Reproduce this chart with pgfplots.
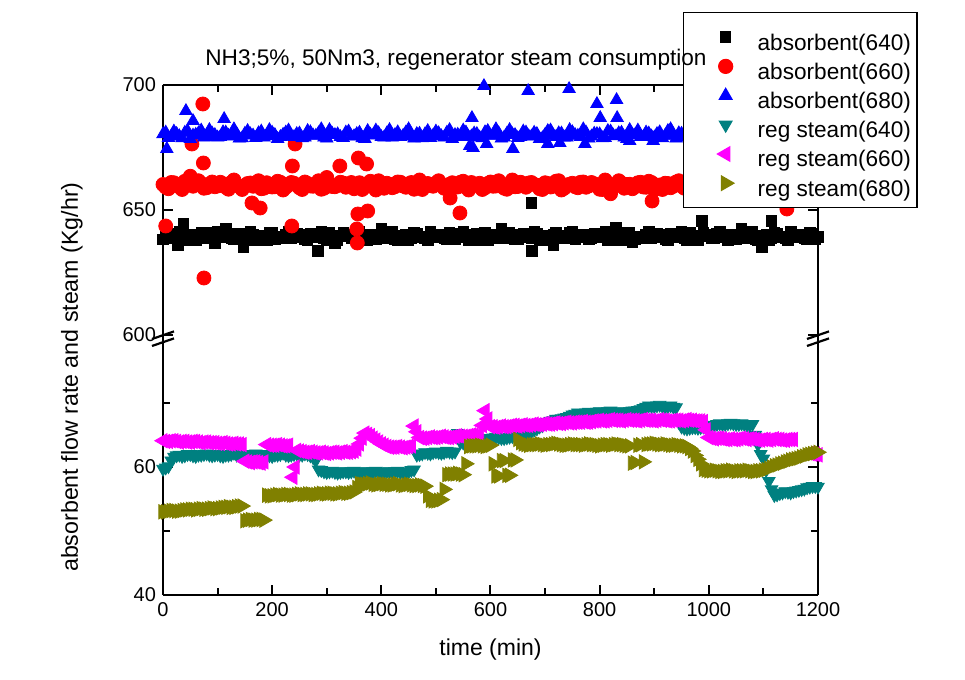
\documentclass[border=0pt]{standalone}
\usepackage{pgfplots}
\pgfplotsset{compat=1.18}
\usepackage{fontspec}
\setmainfont{Liberation Sans}
\definecolor{cteal}{RGB}{0,128,128}
\definecolor{cmag}{RGB}{255,0,255}
\definecolor{colive}{RGB}{128,128,0}
\pgfplotsset{
  common/.style={
    scale only axis, width=327.5pt,
    xmin=0, xmax=1200,
    xtick={0,200,...,1200}, minor xtick={100,300,...,1100},
    major tick length=5pt, minor tick length=3.5pt,
    every tick/.style={black, line width=1pt},
    axis line style={-, line width=1.2pt, black},
    every outer x axis line/.append style={-},
    every outer y axis line/.append style={-},
    ticklabel style={font=\fontsize{10}{12}\selectfont},
    /pgf/number format/assume math mode=true,
    /pgf/number format/1000 sep={},
  },
  sq/.style={only marks, mark=square*, color=black, mark size=2.6pt},
  ci/.style={only marks, mark=*, color=red, mark size=3.5pt},
  tu/.style={only marks, mark=triangle*, color=blue, mark size=3.6pt},
  td/.style={only marks, mark=triangle*, color=cteal, mark size=3.6pt, mark options={rotate=180}},
  tl/.style={only marks, mark=triangle*, color=cmag, mark size=4.1pt, mark options={rotate=90}},
  tr/.style={only marks, mark=triangle*, color=colive, mark size=4.1pt, mark options={rotate=-90}},
}
\begin{document}
\begin{tikzpicture}
\useasboundingbox (-81.5pt,-42.5pt) rectangle (401pt,297.5pt);
% ---------------- lower axis (steam) ----------------
\begin{axis}[common, at={(0,0)}, anchor=south west, height=130pt,
  ymin=40, ymax=80.625, ytick={40,60}, minor ytick={50,70},
  axis x line*=bottom, axis y line*=box, tick align=inside,
  xtick pos=lower, ytick pos=both,
  xlabel={time (min)}, ylabel={absorbent flow rate and steam (Kg/hr)},
  xlabel style={font=\fontsize{11.5}{13}\selectfont, at={(rel axis cs:0.5,-0.2115)}, anchor=center},
  ylabel style={font=\fontsize{11.6}{13}\selectfont, at={(rel axis cs:-0.139,0.838)}, anchor=center},
]
% reg steam (640)
\addplot[td] coordinates {
(0,59.7)(10,60.1)(20,61.6)(30,61.9)(40,61.8)(50,62.0)(60,61.7)(70,61.9)(80,62.1)(90,61.8)
(100,62.0)(110,61.7)(120,61.9)(130,62.2)(140,61.8)(150,62.0)(160,61.9)(170,62.1)(180,61.8)(190,62.0)
(200,61.7)(210,61.9)(220,62.2)(230,61.8)(240,62.0)(250,61.9)(260,62.1)(270,61.8)(280,61.0)(290,59.5)
(300,59.2)(310,59.4)(320,59.1)(330,59.3)(340,59.2)(350,59.4)(360,59.1)(370,59.3)(380,59.2)(390,59.4)
(400,59.1)(410,59.3)(420,59.2)(430,59.4)(440,59.1)(450,59.3)(460,59.6)(470,62.0)(480,62.3)(490,62.1)
(500,62.4)(510,62.2)(520,62.5)(530,62.3)(540,65.3)(550,63.8)(560,63.6)(570,63.9)(580,64.2)(590,64.4)
(600,64.5)(610,64.7)(620,64.5)(630,64.6)(640,64.8)(650,64.6)(660,65.2)(670,65.5)(680,65.8)(690,66.3)
(700,66.8)(710,67.2)(720,67.5)(730,67.6)(740,67.8)(750,68.2)(760,68.5)(770,68.4)(780,68.6)(790,68.5)
(800,68.7)(810,68.6)(820,68.8)(830,68.5)(840,68.7)(850,68.6)(860,68.8)(870,68.9)(880,69.2)(890,69.6)
(900,69.5)(910,69.7)(920,69.4)(930,69.6)(940,69.3)(950,66.3)(960,66.0)(970,66.2)(980,66.1)(990,66.3)
(1000,66.5)(1010,66.6)(1020,66.8)(1030,66.7)(1040,66.9)(1050,66.7)(1060,66.8)(1070,66.6)(1080,66.7)(1090,63.5)
(1100,61.3)(1110,57.8)(1120,55.6)(1130,55.9)(1140,56.2)(1150,56.0)(1160,56.3)(1170,56.5)(1180,56.8)(1190,57.0)
(1200,56.9)};
\addplot[td, forget plot] coordinates {
(5,59.9)(15,61.0)(25,61.8)(35,61.7)(45,62.0)(55,61.8)(65,61.9)(75,62.0)(85,61.9)(95,61.9)
(105,61.8)(115,61.9)(125,62.0)(135,61.9)(145,62.0)(155,61.8)(165,62.0)(175,61.9)(185,61.9)(195,61.8)
(205,61.9)(215,62.0)(225,61.9)(235,61.9)(245,62.1)(255,61.9)(265,62.0)(275,61.5)(285,59.6)(295,59.3)
(305,59.3)(315,59.2)(325,59.2)(335,59.3)(345,59.3)(355,59.2)(365,59.2)(375,59.3)(385,59.3)(395,59.2)
(405,59.2)(415,59.3)(425,59.3)(435,59.2)(445,59.2)(455,59.5)(465,61.9)(475,62.1)(485,62.2)(495,62.3)
(505,62.3)(515,62.3)(525,62.4)(535,62.4)(545,63.9)(555,63.7)(565,63.8)(575,64.0)(585,64.3)(595,64.5)
(605,64.6)(615,64.6)(625,64.5)(635,64.7)(645,64.7)(655,64.9)(665,65.3)(675,65.6)(685,66.0)(695,66.5)
(705,67.0)(715,67.3)(725,67.5)(735,67.7)(745,68.0)(755,68.3)(765,68.4)(775,68.5)(785,68.5)(795,68.6)
(805,68.6)(815,68.7)(825,68.6)(835,68.6)(845,68.6)(855,68.7)(865,68.8)(875,69.0)(885,69.4)(895,69.5)
(905,69.6)(915,69.5)(925,69.5)(935,69.4)(945,67.0)(955,66.1)(965,66.1)(975,66.2)(985,66.2)(995,66.4)
(1005,66.5)(1015,66.7)(1025,66.7)(1035,66.8)(1045,66.8)(1055,66.7)(1065,66.7)(1075,66.6)(1085,65.0)(1095,62.0)
(1105,59.5)(1115,56.5)(1125,55.7)(1135,56.0)(1145,56.1)(1155,56.2)(1165,56.4)(1175,56.6)(1185,56.9)(1195,57.0)};
% reg steam (660)
\addplot[tl] coordinates {
(0,64.1)(10,64.0)(20,64.1)(30,63.9)(40,64.0)(50,63.9)(60,64.0)(70,63.8)(80,63.9)(90,63.8)
(100,63.7)(110,63.8)(120,63.6)(130,63.7)(140,63.6)(150,60.9)(160,60.7)(170,60.8)(180,60.6)(190,63.5)
(200,63.4)(210,63.5)(220,63.3)(230,63.4)(238,58.4)(242,60.0)(250,62.5)(260,62.3)(270,62.4)(280,62.2)
(290,62.3)(300,62.1)(310,62.3)(320,62.2)(330,62.4)(340,62.3)(350,62.5)(360,63.6)(370,65.3)(380,64.9)
(390,64.2)(400,63.6)(410,63.2)(420,63.1)(430,63.2)(440,63.0)(450,63.2)(460,66.4)(470,64.6)(480,64.5)
(490,64.7)(500,64.6)(510,64.8)(520,64.6)(530,64.7)(540,64.9)(550,64.8)(560,64.9)(570,65.0)(580,64.9)
(590,68.8)(600,66.3)(610,66.2)(620,66.4)(630,66.3)(640,66.5)(650,66.4)(660,66.6)(670,66.5)(680,66.7)
(690,66.6)(700,66.8)(710,66.7)(720,66.9)(730,66.8)(740,67.0)(750,66.9)(760,67.0)(770,67.1)(780,67.0)
(790,67.2)(800,67.3)(810,67.2)(820,67.4)(830,67.3)(840,67.2)(850,67.4)(860,67.3)(870,67.2)(880,67.4)
(890,67.3)(900,67.2)(910,67.4)(920,67.3)(930,67.2)(940,67.3)(950,67.2)(960,67.4)(970,67.3)(980,67.2)
(990,67.1)(1000,64.6)(1010,64.4)(1020,64.5)(1030,64.3)(1040,64.4)(1050,64.3)(1060,64.5)(1070,64.3)(1080,64.4)
(1090,64.2)(1100,64.3)(1110,64.2)(1120,64.4)(1130,64.3)(1140,64.2)(1150,64.3)(1190,62.0)(1200,61.9)};
\addplot[tl, forget plot] coordinates {
(5,64.0)(15,64.1)(25,64.0)(35,64.0)(45,63.9)(55,64.0)(65,63.9)(75,63.9)(85,63.8)(95,63.8)
(105,63.7)(115,63.7)(125,63.6)(135,63.6)(145,63.5)(155,60.8)(165,60.8)(175,60.7)(185,60.8)(195,63.4)
(205,63.4)(215,63.4)(225,63.3)(245,62.6)(255,62.4)(265,62.3)(275,62.3)(285,62.2)(295,62.2)(305,62.2)
(315,62.3)(325,62.3)(335,62.3)(345,62.4)(355,62.8)(365,64.5)(375,65.1)(385,64.5)(395,63.9)(405,63.4)
(415,63.1)(425,63.1)(435,63.1)(445,63.1)(455,63.3)(465,65.5)(475,64.5)(485,64.6)(495,64.6)(505,64.7)
(515,64.7)(525,64.6)(535,64.8)(545,64.8)(555,64.8)(565,65.0)(575,64.9)(585,66.5)(595,67.5)(605,66.3)
(615,66.3)(625,66.3)(635,66.4)(645,66.5)(655,66.5)(665,66.5)(675,66.6)(685,66.6)(695,66.7)(705,66.7)
(715,66.8)(725,66.8)(735,66.9)(745,66.9)(755,67.0)(765,67.0)(775,67.0)(785,67.1)(795,67.2)(805,67.2)
(815,67.3)(825,67.3)(835,67.3)(845,67.3)(855,67.3)(865,67.3)(875,67.3)(885,67.3)(895,67.3)(905,67.3)
(915,67.3)(925,67.2)(935,67.3)(945,67.3)(955,67.3)(965,67.3)(975,67.2)(985,67.2)(995,65.8)(1005,64.5)
(1015,64.5)(1025,64.4)(1035,64.3)(1045,64.3)(1055,64.4)(1065,64.4)(1075,64.4)(1085,64.3)(1095,64.2)(1105,64.3)
(1115,64.3)(1125,64.3)(1135,64.2)(1145,64.3)(1155,64.3)(1185,62.1)(1195,62.0)};
% reg steam (680)
\addplot[tr] coordinates {
(0,53.0)(10,53.1)(20,53.2)(30,53.1)(40,53.3)(50,53.4)(60,53.3)(70,53.5)(80,53.4)(90,53.6)
(100,53.5)(110,53.7)(120,53.8)(130,53.7)(140,53.9)(150,51.6)(160,51.8)(170,51.7)(180,51.8)(190,55.6)
(200,55.5)(210,55.7)(220,55.6)(230,55.7)(240,55.6)(250,55.8)(260,55.7)(270,55.8)(280,55.7)(290,55.9)
(300,55.8)(310,55.9)(320,55.8)(330,56.0)(340,55.9)(350,56.1)(360,57.4)(370,57.3)(380,57.5)(390,57.2)
(400,57.4)(410,57.3)(420,57.2)(430,57.4)(440,57.1)(450,57.3)(460,57.1)(470,57.2)(480,57.0)(490,54.8)
(500,54.7)(510,54.9)(520,58.8)(530,58.9)(540,59.0)(550,58.8)(560,63.2)(570,63.3)(580,63.4)(590,63.2)
(600,63.4)(610,58.6)(620,61.0)(630,58.7)(640,61.1)(650,64.3)(660,63.6)(670,63.4)(680,63.5)(690,63.6)
(700,63.4)(710,63.5)(720,63.7)(730,63.5)(740,63.4)(750,63.6)(760,63.5)(770,63.4)(780,63.6)(790,63.5)
(800,63.3)(810,63.5)(820,63.4)(830,63.6)(840,63.5)(850,63.3)(860,60.6)(870,63.4)(880,60.8)(890,63.6)
(900,63.7)(910,63.5)(920,63.6)(930,63.4)(940,63.5)(950,63.3)(960,63.2)(970,62.5)(980,61.2)(990,59.6)
(1000,59.4)(1010,59.5)(1020,59.3)(1030,59.4)(1040,59.5)(1050,59.3)(1060,59.4)(1070,59.5)(1080,59.3)(1090,59.4)
(1100,59.5)(1110,59.8)(1120,60.2)(1130,60.5)(1140,60.8)(1150,61.1)(1160,61.3)(1170,61.6)(1180,61.9)(1190,62.1)
(1200,62.3)};
\addplot[tr, forget plot] coordinates {
(5,53.0)(15,53.2)(25,53.1)(35,53.2)(45,53.3)(55,53.4)(65,53.4)(75,53.4)(85,53.5)(95,53.5)
(105,53.6)(115,53.7)(125,53.7)(135,53.8)(145,53.9)(155,51.7)(165,51.7)(175,51.8)(185,51.7)(195,55.5)
(205,55.6)(215,55.6)(225,55.7)(235,55.6)(245,55.7)(255,55.7)(265,55.8)(275,55.7)(285,55.8)(295,55.8)
(305,55.9)(315,55.8)(325,55.9)(335,55.9)(345,56.0)(355,56.8)(365,57.3)(375,57.4)(385,57.3)(395,57.3)
(405,57.3)(415,57.2)(425,57.3)(435,57.2)(445,57.2)(455,57.2)(465,57.1)(475,57.1)(485,55.5)(495,54.7)
(505,54.8)(515,56.5)(525,58.9)(535,58.9)(545,58.9)(555,60.5)(565,63.3)(575,63.3)(585,63.3)(595,63.3)
(605,60.5)(615,58.6)(625,61.0)(635,58.7)(645,61.1)(655,63.8)(665,63.5)(675,63.5)(685,63.5)(695,63.5)
(705,63.5)(715,63.6)(725,63.6)(735,63.4)(745,63.5)(755,63.5)(765,63.5)(775,63.5)(785,63.5)(795,63.4)
(805,63.4)(815,63.5)(825,63.5)(835,63.5)(845,63.4)(855,63.3)(865,60.7)(875,63.5)(885,63.5)(895,63.6)
(905,63.6)(915,63.5)(925,63.5)(935,63.4)(945,63.4)(955,63.3)(965,62.9)(975,61.8)(985,60.5)(995,59.5)
(1005,59.4)(1015,59.4)(1025,59.3)(1035,59.4)(1045,59.4)(1055,59.4)(1065,59.4)(1075,59.4)(1085,59.3)(1095,59.4)
(1105,59.6)(1115,60.0)(1125,60.3)(1135,60.6)(1145,60.9)(1155,61.2)(1165,61.4)(1175,61.7)(1185,62.0)(1195,62.2)};
\end{axis}
% ---------------- upper axis (absorbent) ----------------
\begin{axis}[common, at={(0,130pt)}, anchor=south west, height=125pt,
  ymin=600, ymax=700, ytick={600,650,700},
  axis x line*=top, axis y line*=box, tick align=inside,
  xtick pos=upper, ytick pos=both, xticklabels={},
  legend cell align=left,
  legend image code/.code={\path[draw=none,fill=none] (0pt,0pt) -- (34pt,0pt); \draw[#1] plot coordinates {(18pt,0pt)};},
  legend style={at={(rel axis cs:0.794,1.292)}, anchor=north west, draw=black, line width=0.6pt,
    fill=white, inner xsep=3pt, inner ysep=5pt, row sep=0pt,
    font=\fontsize{11.3}{13}\selectfont,
    nodes={inner xsep=0pt, inner ysep=0.8pt, text height=13pt, text depth=0pt}},
]
% absorbent (640)
\addplot[sq] coordinates {
(0,638.3)(10,640.4)(20,639.2)(27,636)(30,641.3)(37,644.4)(40,638.0)(50,639.9)(60,637.8)(70,640.8)(80,639.5)(90,638.7)(95,636.6)
(100,641.5)(110,639.0)(115,642.5)(120,640.2)(130,638.3)(140,640.4)(147,635)(150,639.2)(160,641.3)(170,638.0)(180,639.9)(190,637.8)
(200,640.8)(210,639.5)(220,638.7)(230,641.5)(240,639.0)(250,640.2)(260,638.3)(270,640.4)(280,639.2)(284,633.6)(290,641.3)
(300,638.0)(310,639.9)(315,636.8)(320,637.8)(330,640.8)(340,639.5)(350,638.7)(360,641.5)(370,639.0)(380,640.2)(390,638.3)
(400,642.6)(410,639.2)(420,641.3)(430,638.0)(440,639.9)(450,637.8)(460,640.8)(470,639.5)(480,638.7)(490,641.5)
(500,639.0)(510,640.2)(520,638.3)(530,640.4)(540,639.2)(550,641.3)(560,638.0)(570,639.9)(580,637.8)(590,640.8)
(600,639.5)(610,638.7)(620,642.4)(630,639.0)(640,640.2)(650,638.3)(660,640.4)(670,639.2)(675,652.9)(676,633.6)(680,641.3)(690,638.0)
(700,639.9)(710,637.8)(715,636.0)(720,640.8)(730,639.5)(740,638.7)(750,641.5)(760,639.0)(770,640.2)(780,638.3)(790,640.4)
(800,639.2)(810,641.3)(820,638.0)(830,642.8)(840,637.8)(850,640.8)(860,637.0)(870,639.5)(880,638.7)(890,641.5)
(900,639.0)(910,640.2)(920,638.3)(930,640.4)(940,639.2)(950,641.3)(960,638.0)(970,639.9)(980,637.8)(987,645.6)(990,640.8)
(1000,639.5)(1010,638.7)(1020,641.5)(1030,639.0)(1040,640.2)(1050,638.3)(1060,642.6)(1070,639.2)(1080,641.3)(1090,638.0)(1097,635)
(1100,639.9)(1110,637.8)(1115,645.6)(1120,640.8)(1130,639.5)(1140,638.7)(1150,641.5)(1160,639.0)(1170,640.2)(1180,638.3)(1190,640.4)(1200,639.2)};
\addplot[sq, forget plot] coordinates {
(5,640.0)(15,638.6)(25,640.6)(35,639.3)(45,638.1)(55,640.3)(65,639.7)(75,638.9)(85,641.1)(95,638.5)(105,639.5)
(115,640.0)(125,638.6)(135,640.6)(145,639.3)(155,638.1)(165,640.3)(175,639.7)(185,638.9)(195,641.1)(205,638.5)(215,639.5)
(225,640.0)(235,638.6)(245,640.6)(255,639.3)(265,638.1)(275,640.3)(285,639.7)(295,638.9)(305,641.1)(315,638.5)(325,639.5)
(335,640.0)(345,638.6)(355,640.6)(365,639.3)(375,638.1)(385,640.3)(395,639.7)(405,638.9)(415,641.1)(425,638.5)(435,639.5)
(445,640.0)(455,638.6)(465,640.6)(475,639.3)(485,638.1)(495,640.3)(505,639.7)(515,638.9)(525,641.1)(535,638.5)(545,639.5)
(555,640.0)(565,638.6)(575,640.6)(585,639.3)(595,638.1)(605,640.3)(615,639.7)(625,638.9)(635,641.1)(645,638.5)(655,639.5)
(665,640.0)(675,638.6)(685,640.6)(695,639.3)(705,638.1)(715,640.3)(725,639.7)(735,638.9)(745,641.1)(755,638.5)(765,639.5)
(775,640.0)(785,638.6)(795,640.6)(805,639.3)(815,638.1)(825,640.3)(835,639.7)(845,638.9)(855,641.1)(865,638.5)(875,639.5)
(885,640.0)(895,638.6)(905,640.6)(915,639.3)(925,638.1)(935,640.3)(945,639.7)(955,638.9)(965,641.1)(975,638.5)(985,639.5)
(995,640.0)(1005,638.6)(1015,640.6)(1025,639.3)(1035,638.1)(1045,640.3)(1055,639.7)(1065,638.9)(1075,641.1)(1085,638.5)(1095,639.5)
(1105,640.0)(1115,638.6)(1125,640.6)(1135,639.3)(1145,638.1)(1155,640.3)(1165,639.7)(1175,638.9)(1185,641.1)(1195,638.5)};
% absorbent (660)
\addplot[ci] coordinates {
(0,660.2)(5,643.6)(10,658.5)(20,660.9)(30,659.2)(40,661.5)(50,663.5)(53,676.4)(60,660.0)(70,660.7)(73,692.4)(74,668.8)(75,622.8)(80,658.9)(90,661.2)
(100,659.6)(110,660.5)(120,658.3)(130,662.0)(140,659.4)(150,659.8)(160,660.8)(163,652.8)(170,660.2)(178,650.8)(180,658.5)(190,660.9)
(200,659.2)(210,661.5)(220,658.0)(230,660.0)(236,643.6)(237,667.6)(240,660.7)(242,676.4)(250,658.9)(260,661.2)(270,659.6)(280,660.5)(290,658.3)
(300,663.0)(310,659.4)(320,659.8)(324,667.6)(330,660.8)(340,660.2)(350,658.5)(355,642.4)(356,636.8)(357,648.4)(358,670.8)(360,660.9)(370,659.2)(373,668.4)(375,649.6)(380,661.5)(390,658.0)
(400,660.0)(410,660.7)(420,658.9)(430,661.2)(440,659.6)(450,660.5)(460,658.3)(470,662.0)(480,659.4)(490,659.8)
(500,660.8)(510,660.2)(520,658.5)(526,654.8)(530,660.9)(540,659.2)(544,648.8)(550,661.5)(560,658.0)(570,660.0)(580,660.7)(590,658.9)
(600,661.2)(610,659.6)(620,660.5)(630,658.3)(640,662.0)(650,659.4)(660,659.8)(670,660.8)(680,660.2)(690,658.5)
(700,660.9)(710,659.2)(720,661.5)(730,658.0)(740,660.0)(750,660.7)(760,658.9)(770,661.2)(780,659.6)(790,660.5)
(800,658.3)(810,662.0)(820,656.5)(830,659.8)(840,660.8)(850,660.2)(860,658.5)(870,660.9)(880,659.2)(890,661.5)(896,653.6)
(900,658.0)(910,660.0)(920,660.7)(930,658.9)(940,661.2)(950,659.6)(960,660.5)(970,658.3)(980,662.0)(990,659.4)
(1000,659.8)(1010,660.8)(1020,660.2)(1030,658.5)(1040,660.9)(1050,659.2)(1060,661.5)(1070,658.0)(1080,660.0)(1090,660.7)
(1100,658.9)(1110,661.2)(1120,659.6)(1130,660.5)(1140,658.3)(1143,650.4)(1150,662.0)(1160,659.4)(1170,659.8)(1180,660.8)(1190,660.2)(1200,658.5)};
\addplot[ci, forget plot] coordinates {
(5,659.1)(15,661.0)(25,659.9)(35,658.2)(45,660.6)(55,659.5)(65,661.7)(75,658.7)(85,660.3)(95,659.3)(105,661.1)
(115,659.1)(125,661.0)(135,659.9)(145,658.2)(155,660.6)(165,659.5)(175,661.7)(185,658.7)(195,660.3)(205,659.3)(215,661.1)
(225,659.1)(235,661.0)(245,659.9)(255,658.2)(265,660.6)(275,659.5)(285,661.7)(295,658.7)(305,660.3)(315,659.3)(325,661.1)
(335,659.1)(345,661.0)(355,659.9)(365,658.2)(375,660.6)(385,659.5)(395,661.7)(405,658.7)(415,660.3)(425,659.3)(435,661.1)
(445,659.1)(455,661.0)(465,659.9)(475,658.2)(485,660.6)(495,659.5)(505,661.7)(515,658.7)(525,660.3)(535,659.3)(545,661.1)
(555,659.1)(565,661.0)(575,659.9)(585,658.2)(595,660.6)(605,659.5)(615,661.7)(625,658.7)(635,660.3)(645,659.3)(655,661.1)
(665,659.1)(675,661.0)(685,659.9)(695,658.2)(705,660.6)(715,659.5)(725,661.7)(735,658.7)(745,660.3)(755,659.3)(765,661.1)
(775,659.1)(785,661.0)(795,659.9)(805,658.2)(815,660.6)(825,659.5)(835,661.7)(845,658.7)(855,660.3)(865,659.3)(875,661.1)
(885,659.1)(895,661.0)(905,659.9)(915,658.2)(925,660.6)(935,659.5)(945,661.7)(955,658.7)(965,660.3)(975,659.3)(985,661.1)
(995,659.1)(1005,661.0)(1015,659.9)(1025,658.2)(1035,660.6)(1045,659.5)(1055,661.7)(1065,658.7)(1075,660.3)(1085,659.3)(1095,661.1)
(1105,659.1)(1115,661.0)(1125,659.9)(1135,658.2)(1145,660.6)(1155,659.5)(1165,661.7)(1175,658.7)(1185,660.3)(1195,659.3)};
% absorbent (680)
\addplot[tu] coordinates {
(0,680.3)(7,674.4)(10,678.8)(20,681.4)(30,679.5)(40,680.9)(42,689.6)(50,678.4)(55,685.6)(60,680.1)(70,681.8)(80,679.2)(90,680.6)
(100,679.0)(110,681.1)(112,686.4)(120,679.7)(130,682.3)(140,678.6)(150,680.5)(160,680.3)(170,678.8)(180,681.4)(190,679.5)
(200,680.9)(210,678.4)(220,680.1)(230,681.8)(240,679.2)(250,680.6)(260,679.0)(270,681.1)(280,679.7)(290,682.3)
(300,678.6)(310,680.5)(320,680.3)(330,678.8)(340,681.4)(350,679.5)(360,680.9)(370,678.4)(380,680.1)(390,681.8)
(400,679.2)(410,680.6)(420,679.0)(430,681.1)(440,679.7)(450,682.3)(460,678.6)(470,680.5)(480,680.3)(490,678.8)
(500,681.4)(510,679.5)(520,680.9)(530,678.4)(540,680.1)(550,681.8)(560,679.2)(562,675.6)(566,686.8)(568,674.8)(570,680.6)(580,679.0)(588,699.6)(590,681.1)(593,676.4)
(600,679.7)(610,682.3)(620,678.6)(630,680.5)(640,680.3)(641,674.4)(650,678.8)(660,681.4)(669,697.6)(670,679.5)(680,680.9)(690,678.4)
(700,680.1)(705,676.4)(710,681.8)(720,679.2)(727,676.8)(730,680.6)(740,679.0)(744,698.4)(750,681.1)(760,679.7)(770,682.3)(773,676.4)(780,678.6)(790,680.5)(795,692.4)
(800,680.3)(801,686.8)(810,678.8)(820,681.4)(830,679.5)(831,694.0)(832,686.8)(840,680.9)(850,678.4)(855,677.6)(860,680.1)(870,681.8)(880,679.2)(890,680.6)(898,677.6)
(900,679.0)(910,681.1)(920,679.7)(930,682.3)(940,678.6)(950,680.5)(960,680.3)(970,678.8)(980,681.4)(990,679.5)
(1000,680.9)(1010,678.4)(1020,680.1)(1030,681.8)(1040,679.2)(1050,680.6)(1060,679.0)(1070,681.1)(1080,679.7)(1090,682.3)
(1100,678.6)(1110,680.5)(1120,680.3)(1130,678.8)(1140,681.4)(1150,679.5)(1160,680.9)(1170,678.4)(1180,680.1)(1190,681.8)(1200,679.2)};
\addplot[tu, forget plot] coordinates {
(5,681.0)(15,679.4)(25,680.4)(35,678.7)(45,681.6)(55,679.8)(65,680.7)(75,679.0)(85,682.0)(95,680.0)(105,679.2)
(115,681.0)(125,679.4)(135,680.4)(145,678.7)(155,681.6)(165,679.8)(175,680.7)(185,679.0)(195,682.0)(205,680.0)(215,679.2)
(225,681.0)(235,679.4)(245,680.4)(255,678.7)(265,681.6)(275,679.8)(285,680.7)(295,679.0)(305,682.0)(315,680.0)(325,679.2)
(335,681.0)(345,679.4)(355,680.4)(365,678.7)(375,681.6)(385,679.8)(395,680.7)(405,679.0)(415,682.0)(425,680.0)(435,679.2)
(445,681.0)(455,679.4)(465,680.4)(475,678.7)(485,681.6)(495,679.8)(505,680.7)(515,679.0)(525,682.0)(535,680.0)(545,679.2)
(555,681.0)(565,679.4)(575,680.4)(585,678.7)(595,681.6)(605,679.8)(615,680.7)(625,679.0)(635,682.0)(645,680.0)(655,679.2)
(665,681.0)(675,679.4)(685,680.4)(695,678.7)(705,681.6)(715,679.8)(725,680.7)(735,679.0)(745,682.0)(755,680.0)(765,679.2)
(775,681.0)(785,679.4)(795,680.4)(805,678.7)(815,681.6)(825,679.8)(835,680.7)(845,679.0)(855,682.0)(865,680.0)(875,679.2)
(885,681.0)(895,679.4)(905,680.4)(915,678.7)(925,681.6)(935,679.8)(945,680.7)(955,679.0)(965,682.0)(975,680.0)(985,679.2)
(995,681.0)(1005,679.4)(1015,680.4)(1025,678.7)(1035,681.6)(1045,679.8)(1055,680.7)(1065,679.0)(1075,682.0)(1085,680.0)(1095,679.2)
(1105,681.0)(1115,679.4)(1125,680.4)(1135,678.7)(1145,681.6)(1155,679.8)(1165,680.7)(1175,679.0)(1185,682.0)(1195,680.0)};
\addlegendentry{absorbent(640)}
\addlegendentry{absorbent(660)}
\addlegendentry{absorbent(680)}
\addlegendimage{td}\addlegendentry{reg steam(640)}
\addlegendimage{tl}\addlegendentry{reg steam(660)}
\addlegendimage{tr}\addlegendentry{reg steam(680)}
\end{axis}
% title drawn over the legend, as in the reference
\node[font=\fontsize{11.3}{13}\selectfont, anchor=center] at (146.5pt,267.5pt) {NH3;5\%, 50Nm3, regenerator steam consumption};
% axis break marks
\draw[line width=1.1pt] (-5.5pt,128pt) -- (5.5pt,131.8pt);
\draw[line width=1.1pt] (-5.5pt,124.5pt) -- (5.5pt,128.3pt);
\draw[line width=1.1pt] (322pt,128pt) -- (333pt,131.8pt);
\draw[line width=1.1pt] (322pt,124.5pt) -- (333pt,128.3pt);
\end{tikzpicture}
\end{document}
